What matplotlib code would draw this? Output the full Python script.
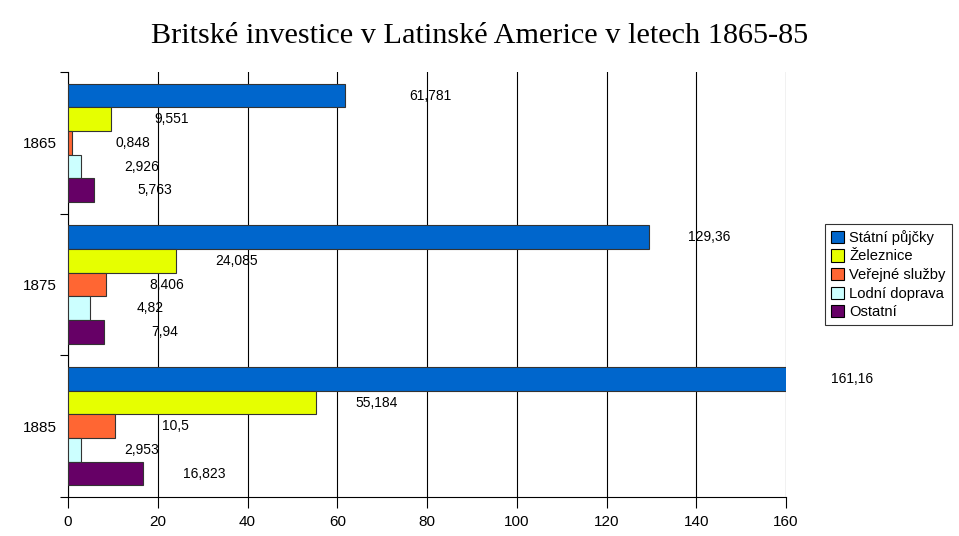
import numpy as np
import matplotlib.pyplot as plt
from matplotlib.patches import Patch

years = ["1865", "1875", "1885"]
series = ["Státní půjčky", "Železnice", "Veřejné služby", "Lodní doprava", "Ostatní"]
values = [
    [61.781, 129.36, 161.16],
    [9.551, 24.085, 55.184],
    [0.848, 8.406, 10.5],
    [2.926, 4.82, 2.953],
    [5.763, 7.94, 16.823],
]
labels = [
    ["61,781", "129,36", "161,16"],
    ["9,551", "24,085", "55,184"],
    ["0,848", "8,406", "10,5"],
    ["2,926", "4,82", "2,953"],
    ["5,763", "7,94", "16,823"],
]
colors = ["#0066CC", "#E6FF00", "#FF6633", "#CCFFFF", "#660066"]

plt.rcParams['font.family'] = ['Liberation Sans', 'DejaVu Sans']

fig = plt.figure(figsize=(9.59, 5.36), dpi=100)
ax = fig.add_axes([68/959, 1 - 497/536, (786 - 68)/959, (497 - 72)/536])

bh = 0.167
y0 = np.arange(len(years))
for j, name in enumerate(series):
    ys = y0 - 0.5 + 0.083 + bh * (j + 0.5)
    ax.barh(ys, values[j], height=bh, color=colors[j], edgecolor='#333333', linewidth=0.8, zorder=3)
    for k in range(len(years)):
        # first label sits a bit further out in the original
        off = 19 if (j == 0 and k == 0) else 13.5
        ax.text(values[j][k] + off, ys[k], labels[j][k], ha='center', va='center',
                fontsize=10, zorder=4)

ax.set_xlim(0, 160)
ax.set_ylim(2.5, -0.5)
ax.set_xticks(np.arange(0, 161, 20))
ax.tick_params(axis='x', labelsize=11, length=8, width=0.8, pad=5)
ax.set_yticks([-0.5, 0.5, 1.5, 2.5])
ax.set_yticklabels([])
ax.set_yticks(y0, minor=True)
ax.set_yticklabels(years, minor=True, fontsize=11)
ax.tick_params(axis='y', which='major', length=6, width=0.8)
ax.tick_params(axis='y', which='minor', length=0, pad=8)
ax.grid(axis='x', color='black', linewidth=0.8, zorder=0)
ax.spines['top'].set_visible(False)
ax.spines['right'].set_visible(False)
ax.spines['left'].set_linewidth(0.8)
ax.spines['bottom'].set_linewidth(0.8)

handles = [Patch(facecolor=c, edgecolor='black', linewidth=0.8) for c in colors]
leg = fig.legend(handles, series, loc='upper left', bbox_to_anchor=(825/959, 1 - 224/536),
                 fontsize=10.6, frameon=True, fancybox=False, edgecolor='black',
                 handlelength=0.9, handleheight=0.9, handletextpad=0.35,
                 labelspacing=0.3, borderpad=0.4, borderaxespad=0)
leg.get_frame().set_linewidth(0.8)

fig.suptitle("Britské investice v Latinské Americe v letech 1865-85", y=1 - 36/536, va='center',
             fontsize=21.8, family='Liberation Serif')

fig.savefig('out.png', dpi=100)
